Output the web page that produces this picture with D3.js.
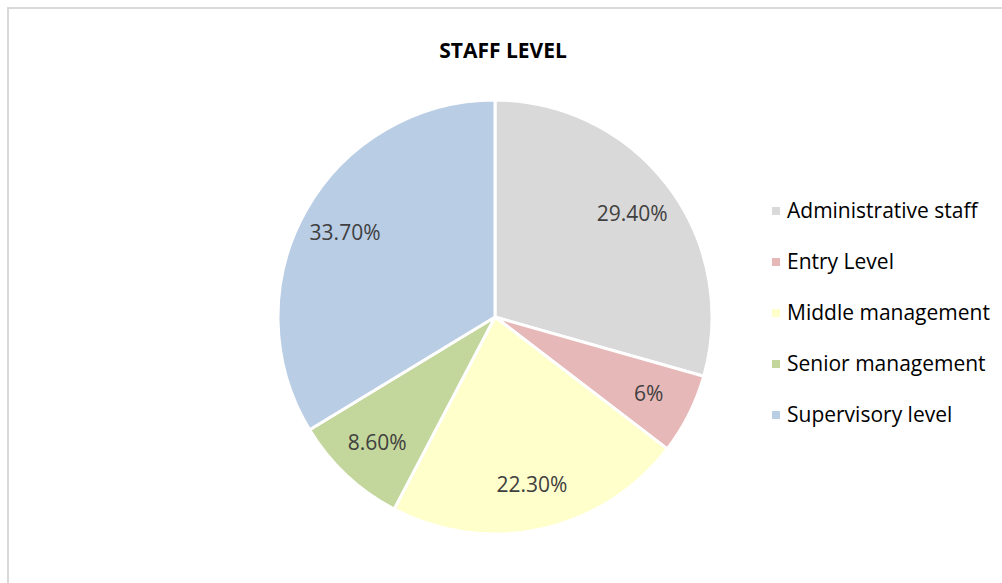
<!DOCTYPE html>
<html>
<head>
<meta charset="utf-8">
<script src="https://cdn.jsdelivr.net/npm/d3@7"></script>
<style>
  body { margin: 0; background: #fff; }
  text { font-family: "Open Sans", Lato, sans-serif; }
</style>
</head>
<body>
<svg id="chart" width="1002" height="583"></svg>
<script>
const categories = ["Administrative staff", "Entry Level", "Middle management", "Senior management", "Supervisory level"];
const values = [29.4, 6, 22.3, 8.6, 33.7];
const labels = ["29.40%", "6%", "22.30%", "8.60%", "33.70%"];
const colors = ["#d9d9d9", "#e6b9b8", "#ffffcc", "#c3d69b", "#b9cde5"];

const svg = d3.select("#chart"),
    width = +svg.attr("width"),
    height = +svg.attr("height");

// chart frame (only top and left edges fall inside the window)
svg.append("rect")
  .attr("x", 8)
  .attr("y", 8)
  .attr("width", 1100)
  .attr("height", 700)
  .attr("fill", "none")
  .attr("stroke", "#d9d9d9")
  .attr("stroke-width", 2);

svg.append("text")
  .attr("x", 503)
  .attr("y", 58)
  .attr("text-anchor", "middle")
  .style("font-size", "21px")
  .style("font-weight", "bold")
  .style("fill", "#000")
  .text("STAFF LEVEL");

const cx = 495, cy = 317, r = 217;

const color = d3.scaleOrdinal().domain(categories).range(colors);

const pie = d3.pie().sort(null).value(d => d.value);
const data = categories.map((c, i) => ({ name: c, value: values[i], label: labels[i] }));

const arc = d3.arc().innerRadius(0).outerRadius(r);
const labelArc = d3.arc().innerRadius(172).outerRadius(172);

const g = svg.append("g").attr("transform", `translate(${cx},${cy})`);

g.selectAll("path")
  .data(pie(data))
  .join("path")
    .attr("d", arc)
    .attr("fill", d => color(d.data.name))
    .attr("stroke", "#fff")
    .attr("stroke-width", 3)
    .attr("stroke-linejoin", "round");

g.selectAll("text.lbl")
  .data(pie(data))
  .join("text")
    .attr("class", "lbl")
    .attr("transform", d => `translate(${labelArc.centroid(d)})`)
    .attr("text-anchor", "middle")
    .attr("dy", "0.35em")
    .style("font-size", "21px")
    .style("fill", "#404040")
    .text(d => d.data.label);

// legend
const legend = svg.append("g").attr("transform", "translate(772,211)");
const row = 51;

legend.selectAll("rect")
  .data(categories)
  .join("rect")
    .attr("x", 0)
    .attr("y", (d, i) => i * row - 4)
    .attr("width", 8)
    .attr("height", 8)
    .attr("fill", d => color(d));

legend.selectAll("text")
  .data(categories)
  .join("text")
    .attr("x", 15)
    .attr("y", (d, i) => i * row)
    .attr("dy", "0.35em")
    .style("font-size", "21px")
    .style("fill", "#000")
    .text(d => d);
</script>
</body>
</html>
